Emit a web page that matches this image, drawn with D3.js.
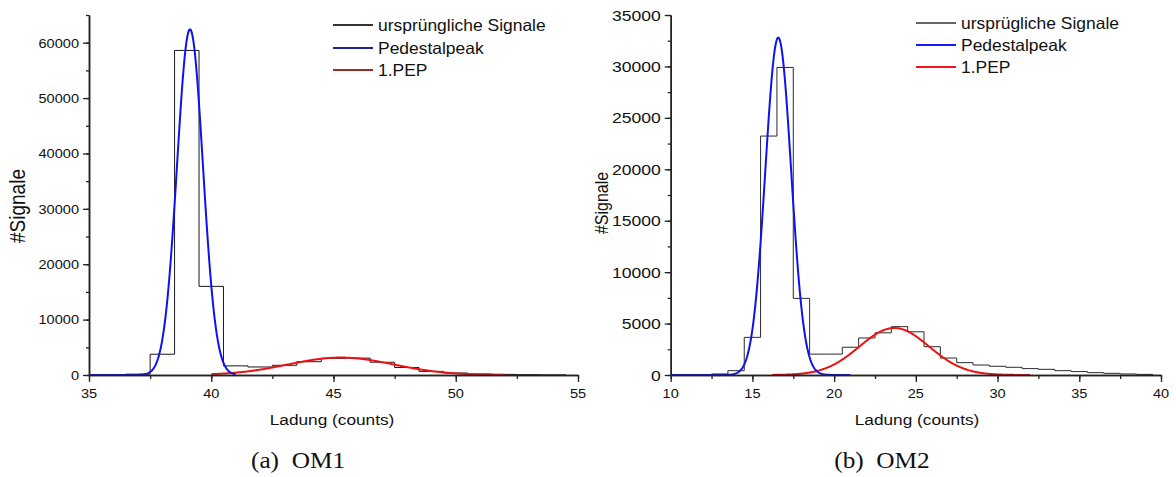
<!DOCTYPE html>
<html>
<head>
<meta charset="utf-8">
<script src="https://cdn.jsdelivr.net/npm/d3@7/dist/d3.min.js"></script>
<style>
  html, body { margin: 0; padding: 0; background: #fff; }
  svg { display: block; }
</style>
</head>
<body>
<svg id="chart" width="1176" height="477"></svg>
<script>
// ---- OM1: histogram (bin lower edges, width 1) and Gaussian fits ----
const om1BinStart = [35.5, 36.5, 37.5, 38.5, 39.5, 40.5, 41.5, 42.5, 43.5, 44.5,
                     45.5, 46.5, 47.5, 48.5, 49.5, 50.5, 51.5, 52.5, 53.5];
const om1Counts   = [30, 150, 3750, 58600, 16000, 1650, 1450, 1750, 2400, 3000,
                     3050, 2300, 1350, 650, 350, 180, 110, 60, 30];
// fit parameters: [amplitude, mean, sigma, xFrom, xTo]
const om1Pedestal = [62400, 39.13, 0.53, 35, 41];
const om1PEP      = [3150, 45.3, 2.15, 40, 52];
const om1XTicks   = [35, 40, 45, 50, 55];
const om1YTicks   = [0, 10000, 20000, 30000, 40000, 50000, 60000];

// ---- OM2 ----
const om2BinStart = [11.5, 12.5, 13.5, 14.5, 15.5, 16.5, 17.5, 18.5, 19.5, 20.5,
                     21.5, 22.5, 23.5, 24.5, 25.5, 26.5, 27.5, 28.5, 29.5, 30.5,
                     31.5, 32.5, 33.5, 34.5, 35.5, 36.5, 37.5, 38.5];
const om2Counts   = [20, 100, 420, 3660, 23230, 29900, 7450, 2030, 2030, 2700,
                     3600, 4100, 4700, 4200, 2750, 1650, 1200, 970, 850, 750,
                     620, 550, 420, 330, 230, 160, 100, 60];
const om2Pedestal = [32800, 16.58, 0.79, 10, 21];
const om2PEP      = [4570, 23.68, 2.13, 16.2, 32];
const om2XTicks   = [10, 15, 20, 25, 30, 35, 40];
const om2YTicks   = [0, 5000, 10000, 15000, 20000, 25000, 30000, 35000];

const svg = d3.select("#chart");
const SANS = "'Liberation Sans', Arial, sans-serif";
const SERIF = "'Liberation Serif', 'Times New Roman', serif";

// text with a slight horizontal stretch
function label(g, x, y, str, o = {}) {
  const sx = o.sx || 1.12;
  const t = g.append("text")
    .attr("transform", o.rotate
      ? `translate(${x},${y}) rotate(-90) scale(1,${sx})`
      : `translate(${x},${y}) scale(${sx},1)`)
    .attr("font-family", o.family || SANS)
    .attr("font-size", o.size || 13)
    .attr("text-anchor", o.anchor || "middle")
    .attr("fill", "#111")
    .text(str);
  return t;
}

function panel(cfg) {
  const g = svg.append("g");
  const x = d3.scaleLinear().domain(cfg.xDomain).range(cfg.xRange);
  const y = d3.scaleLinear().domain(cfg.yDomain).range([375, 15]);

  // histogram outline as a step path
  const edges = cfg.bins.map(b => b).concat([cfg.bins[cfg.bins.length - 1] + 1]);
  const pts = [[cfg.xDomain[0], 0], [cfg.bins[0], 0]];
  cfg.bins.forEach((b, i) => {
    pts.push([b, cfg.counts[i]]);
    pts.push([edges[i + 1], cfg.counts[i]]);
  });
  pts.push([edges[edges.length - 1], 0]);
  const line = d3.line().x(d => x(d[0])).y(d => y(d[1]));
  g.append("path").attr("d", line(pts))
    .attr("fill", "none").attr("stroke", cfg.histColor).attr("stroke-width", 1);

  // Gaussian fit curves
  const gauss = p => {
    const [A, mu, s, a, b] = p;
    const n = 300;
    return d3.range(n + 1).map(i => {
      const xv = a + (b - a) * i / n;
      return [xv, A * Math.exp(-((xv - mu) ** 2) / (2 * s * s))];
    });
  };
  g.append("path").attr("d", line(gauss(cfg.pep)))
    .attr("fill", "none").attr("stroke", "#ee1111").attr("stroke-width", 2);
  g.append("path").attr("d", line(gauss(cfg.ped)))
    .attr("fill", "none").attr("stroke", "#1111ee").attr("stroke-width", 2);

  // axes: major ticks plus minor ticks between them
  const axStyle = sel => {
    sel.select(".domain").attr("stroke", "#222").attr("stroke-width", 1.5);
    sel.selectAll(".tick line").attr("stroke", "#222").attr("stroke-width", 1.3);
  };
  const xMinor = d3.range(cfg.xDomain[0], cfg.xDomain[1] + 1e-9, cfg.xMinorStep);
  const yMinor = d3.range(cfg.yDomain[0], cfg.yDomain[1] + 1e-9, cfg.yMinorStep);
  g.append("g").attr("transform", "translate(0,375)")
    .call(d3.axisBottom(x).tickValues(xMinor).tickSize(4).tickSizeOuter(0).tickFormat(""))
    .call(axStyle);
  g.append("g").attr("transform", "translate(0,375)")
    .call(d3.axisBottom(x).tickValues(cfg.xTicks).tickSize(7).tickSizeOuter(0).tickFormat(""))
    .call(axStyle);
  g.append("g").attr("transform", `translate(${cfg.xRange[0]},0)`)
    .call(d3.axisLeft(y).tickValues(yMinor).tickSize(3).tickSizeOuter(0).tickFormat(""))
    .call(axStyle);
  g.append("g").attr("transform", `translate(${cfg.xRange[0]},0)`)
    .call(d3.axisLeft(y).tickValues(cfg.yTicks).tickSize(6).tickSizeOuter(0).tickFormat(""))
    .call(axStyle);

  // tick labels
  cfg.xTicks.forEach(t => label(g, x(t), 398, String(t)));
  cfg.yTicks.forEach(t => label(g, cfg.xRange[0] - 10, y(t) + cfg.yLabelSize * 0.37,
    String(t), { anchor: "end", size: cfg.yLabelSize, sx: cfg.yLabelSx }));

  // axis titles and caption
  label(g, cfg.titleX, 425, "Ladung (counts)", { size: 15, sx: 1.15 });
  label(g, cfg.yTitleX, cfg.yTitleY, "#Signale", { size: cfg.yTitleSize, sx: 1.15, rotate: true });
  label(g, cfg.captionX, 468, cfg.caption, { size: 23, sx: 1.1, family: SERIF })
    .attr("xml:space", "preserve");

  // legend
  const names = [cfg.histName, "Pedestalpeak", "1.PEP"];
  names.forEach((nm, i) => {
    const yy = cfg.legendY[i];
    g.append("line")
      .attr("x1", cfg.legendX).attr("x2", cfg.legendX + 40)
      .attr("y1", yy).attr("y2", yy)
      .attr("stroke", cfg.legendColors[i]).attr("stroke-width", 2);
    label(g, cfg.legendX + 45, yy + 6, nm, { size: 16.3, sx: 1.07, anchor: "start" });
  });
}

panel({
  xDomain: [35, 55], xRange: [89, 578], yDomain: [0, 65000],
  xMinorStep: 2.5, yMinorStep: 5000,
  bins: om1BinStart, counts: om1Counts, ped: om1Pedestal, pep: om1PEP,
  xTicks: om1XTicks, yTicks: om1YTicks,
  yLabelSize: 13, yLabelSx: 1.12,
  histColor: "#1a1a1a",
  titleX: 332, yTitleX: 25, yTitleY: 206, yTitleSize: 19,
  captionX: 298, caption: "(a)  OM1",
  histName: "ursprüngliche Signale",
  legendX: 333, legendY: [25, 48, 70],
  legendColors: ["#333333", "#22229a", "#a02828"]
});

panel({
  xDomain: [10, 40], xRange: [670.7, 1161], yDomain: [0, 35000],
  xMinorStep: 2.5, yMinorStep: 2500,
  bins: om2BinStart, counts: om2Counts, ped: om2Pedestal, pep: om2PEP,
  xTicks: om2XTicks, yTicks: om2YTicks,
  yLabelSize: 15, yLabelSx: 1.17,
  histColor: "#2a2a2a",
  titleX: 917, yTitleX: 608, yTitleY: 203, yTitleSize: 16,
  captionX: 882, caption: "(b)  OM2",
  histName: "ursprügliche Signale",
  legendX: 916, legendY: [23, 45, 67],
  legendColors: ["#666666", "#1a1aee", "#ee1a1a"]
});
</script>
</body>
</html>
